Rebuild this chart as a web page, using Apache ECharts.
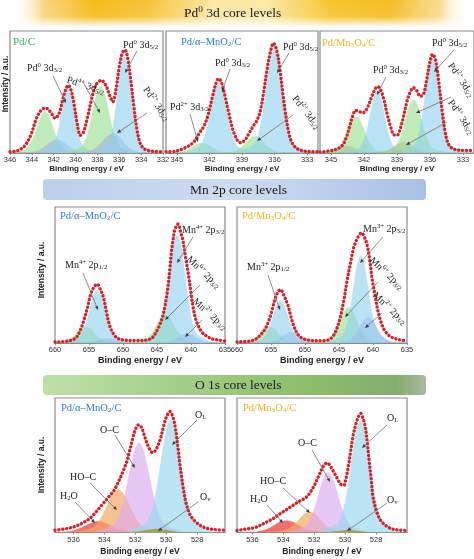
<!DOCTYPE html>
<html><head><meta charset="utf-8">
<script src="https://cdn.jsdelivr.net/npm/echarts@6/dist/echarts.min.js"></script>
<style>html,body{margin:0;padding:0;background:#fff}#c{width:474px;height:559px}</style>
</head><body><div id="c"></div><script>
// ---------- tick labels ----------
const pdTicksA = [346, 344, 342, 340, 338, 336, 334, 332];
const pdTicksB = [345, 342, 339, 336, 333];
const mnTicks = [660, 655, 650, 645, 640, 635];
const oTicks = [536, 534, 532, 530, 528];

// ---------- Pd 3d : Pd/C ----------
const pdC_env = [[346,1],[345.52,1.5],[345.04,3],[344.56,7],[344.08,15],[343.6,28],[343.31,33],[342.93,36.5],[342.64,36.5],[342.25,33],[341.87,28.5],[341.48,33],[341.2,43],[340.91,52],[340.67,55.5],[340.43,52],[340.14,40],[339.85,24],[339.56,14.5],[339.28,17],[338.89,30],[338.51,45],[338.12,56],[337.64,59.5],[337.26,56],[336.87,47],[336.59,42],[336.3,52],[336.01,70],[335.72,82],[335.48,84.5],[335.24,78],[334.95,60],[334.66,38],[334.38,19],[334.09,8],[333.8,4],[333.51,2.5],[333.03,1.5],[332,1]];
const pdC_pd4a = [[345.86,0.7],[344.6,3.1],[344.06,9.2],[343.7,17],[343.39,25.2],[343.11,31.3],[342.8,34],[342.49,31.3],[342.21,25.2],[341.9,17],[341.54,9.2],[341.0,3.1],[339.74,0.7]];
const pdC_pd2a = [[345.44,0.2],[343.9,1],[343.24,3],[342.8,5.5],[342.43,8.1],[342.07,10.1],[341.7,11],[341.33,10.1],[340.97,8.1],[340.6,5.5],[340.16,3],[339.5,1],[337.96,0.2]];
const pdC_pd0a = [[343.25,1],[342.2,4.7],[341.75,14],[341.45,26],[341.2,38.5],[340.96,47.8],[340.7,52],[340.44,47.8],[340.2,38.5],[339.95,26],[339.65,14],[339.2,4.7],[338.15,1]];
const pdC_pd4b = [[340.76,1.1],[339.5,5],[338.96,14.9],[338.6,27.5],[338.29,40.7],[338.01,50.6],[337.7,55],[337.39,50.6],[337.11,40.7],[336.8,27.5],[336.44,14.9],[335.9,5],[334.64,1.1]];
const pdC_pd2b = [[340.34,0.3],[338.8,1.4],[338.14,4.3],[337.7,8],[337.33,11.8],[336.97,14.7],[336.6,16],[336.23,14.7],[335.87,11.8],[335.5,8],[335.06,4.3],[334.4,1.4],[332.86,0.3]];
const pdC_pd0b = [[338.1,1.6],[337.05,7.2],[336.6,21.6],[336.3,40],[336.05,59.2],[335.81,73.6],[335.55,80],[335.29,73.6],[335.05,59.2],[334.8,40],[334.5,21.6],[334.05,7.2],[333.0,1.6]];

// ---------- Pd 3d : Pd/a-MnO2/C ----------
const pdA_env = [[346,1],[345.1,1.5],[344.3,4],[343.5,8.5],[342.9,16.8],[342.5,22],[342.1,32],[341.7,47],[341.4,57],[341.15,61],[340.9,58],[340.6,48],[340.2,32],[339.8,18],[339.4,10],[339.1,8.5],[338.7,11],[338.3,17],[337.9,23],[337.6,27],[337.3,35],[337.0,50],[336.7,68],[336.4,82],[336.1,90],[335.8,84],[335.5,68],[335.2,46],[335.0,33],[334.7,17],[334.4,8.5],[334.0,4],[333.5,2],[332.8,1.2],[332,1]];
const pdA_pd2a = [[346.1,0.2],[344.7,0.8],[344.1,2.3],[343.7,4.3],[343.36,6.3],[343.04,7.8],[342.7,8.5],[342.36,7.8],[342.04,6.3],[341.7,4.3],[341.3,2.3],[340.7,0.8],[339.3,0.2]];
const pdA_pd0a = [[344.21,1.1],[342.95,5.1],[342.41,15.4],[342.05,28.5],[341.74,42.2],[341.46,52.4],[341.15,57],[340.84,52.4],[340.56,42.2],[340.25,28.5],[339.89,15.4],[339.35,5.1],[338.09,1.1]];
const pdA_pd2b = [[341.2,0.3],[339.8,1.3],[339.2,3.8],[338.8,7],[338.46,10.4],[338.14,12.9],[337.8,14],[337.46,12.9],[337.14,10.4],[336.8,7],[336.4,3.8],[335.8,1.3],[334.4,0.3]];
const pdA_pd0b = [[339.11,1.7],[337.85,7.7],[337.31,23],[336.95,42.5],[336.64,62.9],[336.36,78.2],[336.05,85],[335.74,78.2],[335.46,62.9],[335.15,42.5],[334.79,23],[334.25,7.7],[332.99,1.7]];

// ---------- Pd 3d : Pd/Mn3O4/C ----------
const pdM_env = [[346,0.8],[345.3,1.5],[344.6,2.8],[344.0,6],[343.6,13],[343.3,22],[343.0,31],[342.75,35],[342.45,34],[342.1,33],[341.7,37],[341.3,46],[340.95,53],[340.75,54.5],[340.5,52],[340.2,44],[339.9,32],[339.6,22],[339.3,15],[339.0,14.5],[338.7,20],[338.4,30],[338.1,42],[337.8,50],[337.5,53.5],[337.2,51],[336.9,46.5],[336.6,48],[336.3,60],[336.0,75],[335.75,81],[335.5,76],[335.2,58],[334.9,35],[334.6,16],[334.3,7],[333.9,3.5],[333.3,2.3],[332,2]];
const pdM_grayA = [[347.0,0.1],[345.6,0.5],[345.0,1.6],[344.6,3],[344.26,4.4],[343.94,5.5],[343.6,6],[343.26,5.5],[342.94,4.4],[342.6,3],[342.2,1.6],[341.6,0.5],[340.2,0.1]];
const pdM_greenA = [[345.76,0.6],[344.5,2.7],[343.96,8.1],[343.6,15],[343.29,22.2],[343.01,27.6],[342.7,30],[342.39,27.6],[342.11,22.2],[341.8,15],[341.44,8.1],[340.9,2.7],[339.64,0.6]];
const pdM_blueA = [[343.52,1],[342.4,4.6],[341.92,13.8],[341.6,25.5],[341.33,37.7],[341.07,46.9],[340.8,51],[340.53,46.9],[340.27,37.7],[340.0,25.5],[339.68,13.8],[339.2,4.6],[338.08,1]];
const pdM_grayB = [[341.8,0.2],[340.4,0.8],[339.8,2.4],[339.4,4.5],[339.06,6.7],[338.74,8.3],[338.4,9],[338.06,8.3],[337.74,6.7],[337.4,4.5],[337.0,2.4],[336.4,0.8],[335.0,0.2]];
const pdM_greenB = [[340.56,0.9],[339.3,4],[338.76,11.9],[338.4,22],[338.09,32.6],[337.81,40.5],[337.5,44],[337.19,40.5],[336.91,32.6],[336.6,22],[336.24,11.9],[335.7,4],[334.44,0.9]];
const pdM_blueB = [[338.52,1.5],[337.4,6.9],[336.92,20.8],[336.6,38.5],[336.33,57],[336.07,70.8],[335.8,77],[335.53,70.8],[335.27,57],[335.0,38.5],[334.68,20.8],[334.2,6.9],[333.08,1.5]];

// ---------- Mn 2p : Pd/a-MnO2/C ----------
const mnA_env = [[660,0.7],[658,1.5],[657,3.5],[656.4,8],[655.8,16],[655.2,26.5],[654.8,35],[654.4,40],[653.8,43.3],[653.3,39],[652.9,34],[652.4,22],[651.9,12],[651.3,6],[650.7,3.2],[649.5,2],[648,1.8],[646.5,2.2],[645.8,3.5],[645.4,5.7],[644.8,11],[644.2,19],[643.8,28],[643.4,41],[643.1,55],[642.9,66],[642.6,77],[642.4,83],[641.9,87.5],[641.5,81],[641.2,75.7],[640.8,63],[640.4,51],[640.0,37],[639.7,26.5],[639.2,16],[638.4,8],[637.5,4.5],[636.9,3],[635.5,1.8],[635,1.5]];
const mnA_g1 = [[660.94,0.2],[658.7,1.1],[657.74,3.2],[657.1,6],[656.56,8.9],[656.04,11],[655.5,12],[654.96,11],[654.44,8.9],[653.9,6],[653.26,3.2],[652.3,1.1],[650.06,0.2]];
const mnA_b1 = [[658.56,0.8],[656.6,3.5],[655.76,10.5],[655.2,19.5],[654.72,28.9],[654.28,35.9],[653.8,39],[653.32,35.9],[652.88,28.9],[652.4,19.5],[651.84,10.5],[651.0,3.5],[649.04,0.8]];
const mnA_p1 = [[657.74,0.1],[655.5,0.3],[654.54,0.9],[653.9,1.8],[653.36,2.6],[652.84,3.2],[652.3,3.5],[651.76,3.2],[651.24,2.6],[650.7,1.8],[650.06,0.9],[649.1,0.3],[646.86,0.1]];
const mnA_g2 = [[649.24,0.4],[647.0,1.9],[646.04,5.7],[645.4,10.5],[644.86,15.5],[644.34,19.3],[643.8,21],[643.26,19.3],[642.74,15.5],[642.2,10.5],[641.56,5.7],[640.6,1.9],[638.36,0.4]];
const mnA_b2 = [[646.76,1.6],[644.8,7.2],[643.96,21.6],[643.4,40],[642.92,59.2],[642.48,73.6],[642.0,80],[641.52,73.6],[641.08,59.2],[640.6,40],[640.04,21.6],[639.2,7.2],[637.24,1.6]];
const mnA_p2 = [[646.04,0.1],[643.8,0.6],[642.84,1.9],[642.2,3.5],[641.66,5.2],[641.14,6.4],[640.6,7],[640.06,6.4],[639.54,5.2],[639.0,3.5],[638.36,1.9],[637.4,0.6],[635.16,0.1]];

// ---------- Mn 2p : Pd/Mn3O4/C ----------
const mnM_env = [[660,0.8],[658,1.5],[657.2,3],[656.6,5.7],[655.9,10],[655.3,16.7],[654.8,25],[654.3,34],[653.9,38],[653.6,39.3],[653.2,36],[652.6,29],[652.1,20],[651.6,11.8],[651.0,6],[650.3,3.2],[649,1.8],[647.5,1.6],[646.5,2.5],[645.8,5.6],[645.3,11],[644.8,19.2],[644.3,31],[643.8,46.2],[643.3,59],[642.8,70.7],[642.2,78],[641.7,81],[641.2,77],[640.8,70.7],[640.4,58],[640.1,46.2],[639.7,35],[639.3,24.1],[638.8,15],[638.3,9.4],[637.5,5],[636.6,3],[635.5,1.8],[635,1.5]];
const mnM_g1 = [[660.3,0.2],[658.2,1.1],[657.3,3.3],[656.7,6.2],[656.2,9.1],[655.71,11.3],[655.2,12.3],[654.69,11.3],[654.2,9.1],[653.7,6.2],[653.1,3.3],[652.2,1.1],[650.1,0.2]];
const mnM_b1 = [[658.19,0.6],[656.3,2.8],[655.49,8.5],[654.95,15.8],[654.49,23.3],[654.06,29],[653.6,31.5],[653.14,29],[652.71,23.3],[652.25,15.8],[651.71,8.5],[650.9,2.8],[649.01,0.6]];
const mnM_p1 = [[657.54,0.2],[655.3,0.7],[654.34,2.2],[653.7,4],[653.16,5.9],[652.64,7.4],[652.1,8],[651.56,7.4],[651.04,5.9],[650.5,4],[649.86,2.2],[648.9,0.7],[646.66,0.2]];
const mnM_g2 = [[648.7,0.5],[646.6,2.4],[645.7,7.2],[645.1,13.3],[644.6,19.6],[644.11,24.4],[643.6,26.5],[643.09,24.4],[642.6,19.6],[642.1,13.3],[641.5,7.2],[640.6,2.4],[638.5,0.5]];
const mnM_b2 = [[646.39,1.3],[644.5,5.8],[643.69,17.4],[643.15,32.3],[642.69,47.8],[642.26,59.4],[641.8,64.6],[641.34,59.4],[640.91,47.8],[640.45,32.3],[639.91,17.4],[639.1,5.8],[637.21,1.3]];
const mnM_p2 = [[645.8,0.4],[643.7,1.7],[642.8,5.1],[642.2,9.5],[641.7,14.1],[641.21,17.5],[640.7,19],[640.19,17.5],[639.7,14.1],[639.2,9.5],[638.6,5.1],[637.7,1.7],[635.6,0.4]];

// ---------- O 1s : Pd/a-MnO2/C ----------
const oA_env = [[537.2,1.7],[536.7,2.4],[536.2,3.5],[535.8,5],[535.4,7.2],[535.0,10],[534.7,13.3],[534.2,20],[533.8,25.5],[533.4,31],[533.1,37.5],[532.8,45.4],[532.55,53],[532.35,61.5],[532.15,71],[532.0,76.5],[531.8,80],[531.6,78],[531.4,71.5],[531.2,65],[530.9,59.5],[530.7,61],[530.4,69],[530.15,80],[529.95,87],[529.76,90],[529.55,85],[529.4,77],[529.25,64],[529.1,49],[528.9,33],[528.7,21],[528.4,12],[528.0,7],[527.6,4],[527.2,2.7],[526.7,2],[526.2,1.7]];
const oA_h2o = [[537.8,0.2],[536.4,0.8],[535.8,2.3],[535.4,4.2],[535.06,6.2],[534.74,7.7],[534.4,8.4],[534.06,7.7],[533.74,6.2],[533.4,4.2],[533.0,2.3],[532.4,0.8],[531.0,0.2]];
const oA_hoc = [[536.16,0.6],[534.9,2.9],[534.36,8.6],[534.0,16],[533.69,23.7],[533.41,29.4],[533.1,32],[532.79,29.4],[532.51,23.7],[532.2,16],[531.84,8.6],[531.3,2.9],[530.04,0.6]];
const oA_oc = [[534.56,1.3],[533.41,6],[532.92,18.1],[532.59,33.5],[532.3,49.6],[532.04,61.6],[531.76,67],[531.48,61.6],[531.22,49.6],[530.93,33.5],[530.6,18.1],[530.11,6],[528.96,1.3]];
const oA_ov = [[533.66,0.1],[532.4,0.3],[531.86,0.7],[531.5,1.4],[531.19,2],[530.91,2.5],[530.6,2.7],[530.29,2.5],[530.01,2],[529.7,1.4],[529.34,0.7],[528.8,0.3],[527.54,0.1]];
const oA_ol = [[532.36,1.7],[531.27,7.6],[530.81,22.7],[530.5,42],[530.23,62.2],[529.98,77.3],[529.72,84],[529.46,77.3],[529.21,62.2],[528.94,42],[528.63,22.7],[528.17,7.6],[527.08,1.7]];

// ---------- O 1s : Pd/Mn3O4/C ----------
const oM_env = [[537,1.5],[536.5,2.4],[535.9,3.5],[535.5,5.3],[535.1,7.7],[534.6,10.8],[534.2,14],[533.8,17],[533.4,20],[533.0,23],[532.5,26.4],[532.2,31],[532.0,35],[531.75,41],[531.5,47.5],[531.3,51],[531.15,51.7],[531.0,50],[530.8,46.3],[530.5,40],[530.3,36],[530.1,35],[529.95,40],[529.8,48.7],[529.65,60],[529.5,71.1],[529.3,81],[529.15,86],[529.0,88.6],[528.85,85],[528.7,78.6],[528.55,65],[528.45,53.7],[528.3,38],[528.2,26.4],[527.95,15],[527.7,9],[527.35,5],[527.0,2.8],[526.5,1.8],[526,1.5]];
const oM_h2o = [[537.03,0.2],[535.7,0.8],[535.13,2.4],[534.75,4.5],[534.43,6.7],[534.12,8.3],[533.8,9],[533.48,8.3],[533.17,6.7],[532.85,4.5],[532.47,2.4],[531.9,0.8],[530.57,0.2]];
const oM_hoc = [[535.19,0.3],[534.0,1.4],[533.49,4.2],[533.15,7.8],[532.86,11.5],[532.59,14.3],[532.3,15.5],[532.01,14.3],[531.74,11.5],[531.45,7.8],[531.11,4.2],[530.6,1.4],[529.41,0.3]];
const oM_oc = [[533.74,0.9],[532.65,4.1],[532.19,12.2],[531.88,22.5],[531.61,33.3],[531.36,41.4],[531.1,45],[530.84,41.4],[530.59,33.3],[530.32,22.5],[530.01,12.2],[529.55,4.1],[528.46,0.9]];
const oM_ov = [[532.69,0.05],[531.5,0.2],[530.99,0.5],[530.65,0.9],[530.36,1.3],[530.09,1.7],[529.8,1.8],[529.51,1.7],[529.24,1.3],[528.95,0.9],[528.61,0.5],[528.1,0.2],[526.91,0.05]];
const oM_ol = [[531.47,1.7],[530.45,7.6],[530.02,22.7],[529.73,42],[529.48,62.2],[529.25,77.3],[529.0,84],[528.75,77.3],[528.52,62.2],[528.27,42],[527.98,22.7],[527.55,7.6],[526.53,1.7]];

// ---------- styles ----------
const SERIF = '"Liberation Serif","DejaVu Serif",serif';
const SANS = '"Liberation Sans",Arial,sans-serif';
const RED = '#d3222a';
const C_BLUE = 'rgba(140,210,238,0.6)';
const C_GREEN = 'rgba(150,222,140,0.6)';
const C_PURPLE = 'rgba(170,170,228,0.6)';
const C_GRAY = 'rgba(185,168,168,0.6)';
const C_OL = 'rgba(150,215,240,0.65)';
const C_OC = 'rgba(218,170,238,0.65)';
const C_HOC = 'rgba(246,170,98,0.7)';
const C_H2O = 'rgba(236,72,72,0.78)';
const C_OV = 'rgba(150,165,50,0.85)';
const T_GREEN = '#3aa85a', T_BLUE = '#2f7cbf', T_GOLD = '#e9b41e';

const panels = [
  {grid:{left:10, top:31, width:153, height:122}, min:332, max:346, ticks:pdTicksA, gap:11, fs:8,
   env:pdC_env, comps:[[pdC_pd4a,C_GREEN],[pdC_pd2a,C_PURPLE],[pdC_pd0a,C_BLUE],[pdC_pd4b,C_GREEN],[pdC_pd2b,C_PURPLE],[pdC_pd0b,C_BLUE]]},
  {grid:{left:166, top:31, width:152, height:122}, min:332, max:346, ticks:pdTicksB, gap:11, fs:8,
   env:pdA_env, comps:[[pdA_pd2a,C_GREEN],[pdA_pd0a,C_BLUE],[pdA_pd2b,C_GREEN],[pdA_pd0b,C_BLUE]]},
  {grid:{left:320, top:31, width:154, height:122}, min:332, max:346, ticks:pdTicksB, gap:11, fs:8,
   env:pdM_env, comps:[[pdM_grayA,C_GRAY],[pdM_greenA,C_GREEN],[pdM_blueA,C_BLUE],[pdM_grayB,C_GRAY],[pdM_greenB,C_GREEN],[pdM_blueB,C_BLUE]]},
  {grid:{left:55, top:207, width:170, height:136}, min:635, max:660, ticks:mnTicks, gap:13, fs:9,
   env:mnA_env, comps:[[mnA_g1,C_GREEN],[mnA_p1,C_PURPLE],[mnA_b1,C_BLUE],[mnA_g2,C_GREEN],[mnA_p2,C_PURPLE],[mnA_b2,C_BLUE]]},
  {grid:{left:237, top:207, width:170, height:136}, min:635, max:660, ticks:mnTicks, gap:13, fs:9,
   env:mnM_env, comps:[[mnM_g1,C_GREEN],[mnM_p1,C_PURPLE],[mnM_b1,C_BLUE],[mnM_g2,C_GREEN],[mnM_p2,C_PURPLE],[mnM_b2,C_BLUE]]},
  {grid:{left:55, top:398, width:170, height:134.5}, min:526.2, max:537.2, ticks:oTicks, gap:15, fs:8.5,
   env:oA_env, comps:[[oA_h2o,C_H2O],[oA_hoc,C_HOC],[oA_oc,C_OC],[oA_ol,C_OL],[oA_ov,C_OV]]},
  {grid:{left:237, top:398, width:170, height:134.5}, min:526, max:537, ticks:oTicks, gap:15, fs:8.5,
   env:oM_env, comps:[[oM_h2o,C_H2O],[oM_hoc,C_HOC],[oM_oc,C_OC],[oM_ol,C_OL],[oM_ov,C_OV]]}
];

const grids = [], xAxes = [], yAxes = [], series = [];
panels.forEach((p, i) => {
  grids.push(Object.assign({show:true, borderColor:'#8c8c8c', borderWidth:1.2, backgroundColor:'transparent', containLabel:false}, p.grid));
  xAxes.push({type:'value', gridIndex:i, inverse:true, min:p.min, max:p.max,
    name:'Binding energy / eV', nameLocation:'middle', nameGap:p.gap,
    nameTextStyle:{fontFamily:SANS, fontWeight:'bold', fontSize:p.fs, color:'#222'},
    axisLine:{show:true, lineStyle:{color:'#8c8c8c', width:1.2}},
    axisTick:{show:true, length:2, customValues:p.ticks, lineStyle:{color:'#8c8c8c'}},
    axisLabel:{customValues:p.ticks, fontFamily:SANS, fontSize:7.5, color:'#333', margin:3},
    splitLine:{show:false}});
  yAxes.push({type:'value', gridIndex:i, min:0, max:100, show:false});
  p.comps.forEach(([d, c]) => series.push({type:'line', xAxisIndex:i, yAxisIndex:i, data:d, smooth:0.3,
    symbol:'none', silent:true, lineStyle:{width:0, opacity:0}, areaStyle:{color:c, opacity:1}, z:2}));
  series.push({type:'line', xAxisIndex:i, yAxisIndex:i, data:p.env, smooth:0.35, symbol:'none', silent:true,
    lineStyle:{color:RED, width:3.4, type:[0.1, 3.8], cap:'round'}, z:5});
});

// ---------- annotations ----------
function richFor(color, size) {
  const s = size || 10, sm = Math.round(s * 0.68 * 10) / 10;
  return {
    n:{fontSize:s, fontFamily:SERIF, fill:color, color:color},
    p:{fontSize:sm, fontFamily:SERIF, fill:color, color:color, padding:[0,0,Math.round(s*0.55),0]},
    b:{fontSize:sm, fontFamily:SERIF, fill:color, color:color, padding:[Math.round(s*0.5),0,0,0]}
  };
}
const RICH = richFor('#222', 10);
function lab(x, y, text, rot, rich) {
  return {type:'text', x:x, y:y, rotation:-(rot || 0) * Math.PI / 180, z:120, silent:true,
    style:{text:text, rich:rich || RICH, align:'left', textAlign:'left', verticalAlign:'middle', textVerticalAlign:'middle'}};
}
function arrow(x1, y1, x2, y2) {
  const a = Math.atan2(y2 - y1, x2 - x1), L = 4, W = 1.7;
  const bx = x2 - L * Math.cos(a), by = y2 - L * Math.sin(a);
  const px = -Math.sin(a) * W, py = Math.cos(a) * W;
  return [
    {type:'line', z:119, silent:true, shape:{x1:x1, y1:y1, x2:bx, y2:by}, style:{stroke:'#707070', lineWidth:0.8}},
    {type:'polygon', z:119, silent:true, shape:{points:[[x2, y2], [bx + px, by + py], [bx - px, by - py]]}, style:{fill:'#3a3a3a'}}
  ];
}
const G = [];
// banners
G.push({type:'rect', z:1, silent:true, shape:{x:12, y:0, width:456, height:26},
  style:{fill:{type:'linear', x:0, y:0, x2:1, y2:0, colorStops:[
    {offset:0, color:'rgba(255,255,255,0)'}, {offset:0.07, color:'#f8d57e'}, {offset:0.18, color:'#f5bb18'},
    {offset:0.3, color:'#f6c43a'}, {offset:0.44, color:'#fce7a4'}, {offset:0.56, color:'#fce8a8'},
    {offset:0.7, color:'#f6c52c'}, {offset:0.83, color:'#f5bd22'}, {offset:0.94, color:'#f9dd94'},
    {offset:1, color:'rgba(255,255,255,0)'}]}}});
G.push({type:'rect', z:2, silent:true, shape:{x:12, y:0, width:456, height:27},
  style:{fill:{type:'linear', x:0, y:0, x2:0, y2:1, colorStops:[
    {offset:0, color:'rgba(255,255,255,0)'}, {offset:0.6, color:'rgba(255,255,255,0.08)'}, {offset:1, color:'rgba(255,255,255,0.95)'}]}}});
G.push(lab(184, 13, '{n|Pd}{p|0}{n| 3d core levels}', 0, richFor('#1a1a1a', 13.5)));
G.push({type:'rect', z:1, silent:true, shape:{x:43, y:179, width:383, height:21, r:4},
  style:{fill:{type:'linear', x:0, y:0, x2:1, y2:0, colorStops:[
    {offset:0, color:'#bccfeb'}, {offset:0.5, color:'#cedcf2'}, {offset:1, color:'#a8c1e5'}]}}});
G.push(lab(190, 190, '{n|Mn 2p core levels}', 0, richFor('#1a1a1a', 13.5)));
G.push({type:'rect', z:1, silent:true, shape:{x:43, y:375, width:383, height:20, r:4},
  style:{fill:{type:'linear', x:0, y:0, x2:1, y2:0, colorStops:[
    {offset:0, color:'#c0dfaa'}, {offset:0.35, color:'#a5cf88'}, {offset:0.7, color:'#8cbd6b'},
    {offset:0.92, color:'#86ad6c'}, {offset:1, color:'#a9b8a0'}]}}});
G.push(lab(195, 385, '{n|O 1s core levels}', 0, richFor('#1a1a1a', 13.5)));

// y axis names
[[6, 84], [42, 270], [42, 465]].forEach(([x, y]) => G.push({type:'text', x:x, y:y, rotation:Math.PI / 2, z:120, silent:true,
  style:{text:'Intensity / a.u.', fontFamily:SANS, fontWeight:'bold', fontSize:8.5, fill:'#222',
    align:'center', textAlign:'center', verticalAlign:'middle', textVerticalAlign:'middle'}}));

// panel titles
G.push(lab(13, 42, '{n|Pd/C}', 0, richFor(T_GREEN, 11)));
G.push(lab(181, 42, '{n|Pd/α–MnO}{b|2}{n|/C}', 0, richFor(T_BLUE, 10.5)));
G.push(lab(322, 43, '{n|Pd/Mn}{b|3}{n|O}{b|4}{n|/C}', 0, richFor(T_GOLD, 10.5)));
G.push(lab(60, 216, '{n|Pd/α–MnO}{b|2}{n|/C}', 0, richFor(T_BLUE, 10.5)));
G.push(lab(242, 216, '{n|Pd/Mn}{b|3}{n|O}{b|4}{n|/C}', 0, richFor(T_GOLD, 10.5)));
G.push(lab(61, 408, '{n|Pd/α–MnO}{b|2}{n|/C}', 0, richFor(T_BLUE, 10.5)));
G.push(lab(243, 408, '{n|Pd/Mn}{b|3}{n|O}{b|4}{n|/C}', 0, richFor(T_GOLD, 10.5)));

// peak labels + arrows
const ann = [
  [27, 68, '{n|Pd}{p|0}{n| 3d}{b|3/2}', 0, [53, 76, 66, 103]],
  [67, 80, '{n|Pd}{p|4+}{n| 3d}{b|5/2}', 17, [83, 82, 100, 113]],
  [123, 45, '{n|Pd}{p|0}{n| 3d}{b|5/2}', 0, [137, 51, 125, 73]],
  [145, 88, '{n|Pd}{p|2+}{n| 3d}{b|5/2}', 55, [147, 113, 117, 133]],
  [215, 63, '{n|Pd}{p|0}{n| 3d}{b|3/2}', 0, [230, 69, 222, 92]],
  [283, 47, '{n|Pd}{p|0}{n| 3d}{b|5/2}', 0, [289, 53, 277, 73]],
  [170, 107, '{n|Pd}{p|2+}{n| 3d}{b|3/2}', 0, [190, 114, 198, 142]],
  [294, 97, '{n|Pd}{p|2+}{n| 3d}{b|5/2}', 52, [293, 115, 257, 141]],
  [373, 70, '{n|Pd}{p|0}{n| 3d}{b|3/2}', 0, [386, 77, 377, 95]],
  [432, 43, '{n|Pd}{p|0}{n| 3d}{b|5/2}', 0, [454, 50, 434, 72]],
  [450, 64, '{n|Pd}{p|2+}{n| 3d}{b|5/2}', 56, [451, 97, 416, 113]],
  [450, 101, '{n|Pd}{p|4+}{n| 3d}{b|5/2}', 56, [447, 122, 406, 145]],
  [65, 265, '{n|Mn}{p|4+}{n| 2p}{b|1/2}', 0, [83, 273, 98, 310]],
  [182, 230, '{n|Mn}{p|4+}{n| 2p}{b|3/2}', 0, [193, 237, 177, 263]],
  [188, 258, '{n|Mn}{p|6+}{n| 2p}{b|3/2}', 43, [200, 285, 165, 320]],
  [194, 300, '{n|Mn}{p|2+}{n| 2p}{b|3/2}', 42, [202, 320, 185, 337]],
  [247, 267, '{n|Mn}{p|3+}{n| 2p}{b|1/2}', 0, [268, 275, 280, 310]],
  [363, 229, '{n|Mn}{p|3+}{n| 2p}{b|3/2}', 0, [383, 237, 360, 263]],
  [371, 259, '{n|Mn}{p|6+}{n| 2p}{b|3/2}', 43, [378, 282, 345, 317]],
  [374, 294, '{n|Mn}{p|2+}{n| 2p}{b|3/2}', 43, [382, 313, 365, 328]],
  [100, 430, '{n|O–C}', 0, [115, 435, 135, 468]],
  [195, 415, '{n|O}{b|L}', 0, [197, 420, 172, 445]],
  [70, 477, '{n|HO–C}', 0, [90, 483, 117, 510]],
  [60, 496, '{n|H}{b|2}{n|O}', 0, [75, 502, 95, 523]],
  [200, 497, '{n|O}{b|v}', 0, [198, 502, 158, 531]],
  [298, 443, '{n|O–C}', 0, [312, 450, 330, 482]],
  [387, 418, '{n|O}{b|L}', 0, [387, 425, 362, 448]],
  [260, 481, '{n|HO–C}', 0, [283, 488, 310, 513]],
  [250, 499, '{n|H}{b|2}{n|O}', 0, [267, 505, 283, 523]],
  [387, 500, '{n|O}{b|v}', 0, [387, 503, 347, 531]]
];
ann.forEach(([x, y, t, r, a]) => { G.push(lab(x, y, t, r)); arrow(a[0], a[1], a[2], a[3]).forEach(e => G.push(e)); });

const chart = echarts.init(document.getElementById('c'), null, {renderer:'canvas'});
chart.setOption({animation:false, backgroundColor:'#fff', grid:grids, xAxis:xAxes, yAxis:yAxes, series:series, graphic:{elements:G}});
</script></body></html>
